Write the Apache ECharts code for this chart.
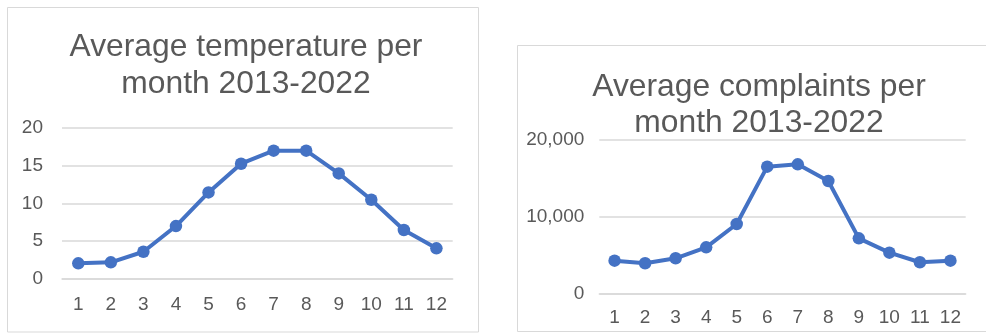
<!DOCTYPE html>
<html>
<head>
<meta charset="utf-8">
<script src="https://cdn.jsdelivr.net/npm/echarts@6/dist/echarts.min.js"></script>
<style>
html,body{margin:0;padding:0;background:#fff;}
#chart{width:986px;height:333px;}
</style>
</head>
<body>
<div id="chart"></div>
<script>
const months = ['1','2','3','4','5','6','7','8','9','10','11','12'];
const temperature = [2.07, 2.2, 3.6, 7.0, 11.45, 15.24, 16.96, 16.96, 13.96, 10.48, 6.48, 4.05];
const complaints = [4240, 3900, 4550, 5970, 9000, 16450, 16750, 14590, 7140, 5280, 4030, 4240];
const tempTitle = 'Average temperature per\nmonth 2013-2022';
const complaintsTitle = 'Average complaints per\nmonth 2013-2022';

const FONT = '"Liberation Sans", Arial, sans-serif';
const GREY = '#595959';
const GRID = '#D9D9D9';
const BLUE = '#4472C4';

const chart = echarts.init(document.getElementById('chart'), null, {renderer: 'canvas'});

function xAxis(idx, margin) {
  return {
    type: 'category', gridIndex: idx, data: months, boundaryGap: true,
    axisLine: {show: true, lineStyle: {color: GRID, width: 1.5}},
    axisTick: {show: false},
    axisLabel: {color: GREY, fontFamily: FONT, fontSize: 19, margin: margin}
  };
}
function yAxis(idx, max, interval, margin, fmt) {
  return {
    type: 'value', gridIndex: idx, min: 0, max: max, interval: interval,
    axisLine: {show: false}, axisTick: {show: false},
    splitLine: {lineStyle: {color: GRID, width: 1.5}},
    axisLabel: {color: GREY, fontFamily: FONT, fontSize: 19, margin: margin, formatter: fmt}
  };
}
function series(idx, data) {
  return {
    type: 'line', xAxisIndex: idx, yAxisIndex: idx, data: data,
    symbol: 'circle', symbolSize: 12.5, showSymbol: true,
    lineStyle: {color: BLUE, width: 4},
    itemStyle: {color: BLUE},
    emphasis: {disabled: true}, animation: false
  };
}

chart.setOption({
  animation: false,
  backgroundColor: '#fff',
  graphic: [
    {type: 'rect', shape: {x: 7.5, y: 7.5, width: 471, height: 324.5}, style: {fill: 'none', stroke: GRID, lineWidth: 1}, silent: true},
    {type: 'rect', shape: {x: 517.5, y: 45.5, width: 480, height: 286}, style: {fill: 'none', stroke: GRID, lineWidth: 1}, silent: true}
  ],
  title: [
    {text: tempTitle, left: 241, top: 24, textAlign: 'center',
     textStyle: {color: GREY, fontFamily: FONT, fontSize: 31.8, fontWeight: 'normal', lineHeight: 36.5}},
    {text: complaintsTitle, left: 754, top: 63.5, textAlign: 'center',
     textStyle: {color: GREY, fontFamily: FONT, fontSize: 31.8, fontWeight: 'normal', lineHeight: 36.5}}
  ],
  grid: [
    {left: 62, top: 127.7, width: 390.7, height: 151.3, containLabel: false},
    {left: 599.3, top: 139.3, width: 366.4, height: 154, containLabel: false}
  ],
  xAxis: [xAxis(0, 16), xAxis(1, 15)],
  yAxis: [
    yAxis(0, 20, 5, 19, null),
    yAxis(1, 20000, 10000, 15, function (v) { return v.toLocaleString('en-US'); })
  ],
  series: [series(0, temperature), series(1, complaints)]
});
</script>
</body>
</html>
